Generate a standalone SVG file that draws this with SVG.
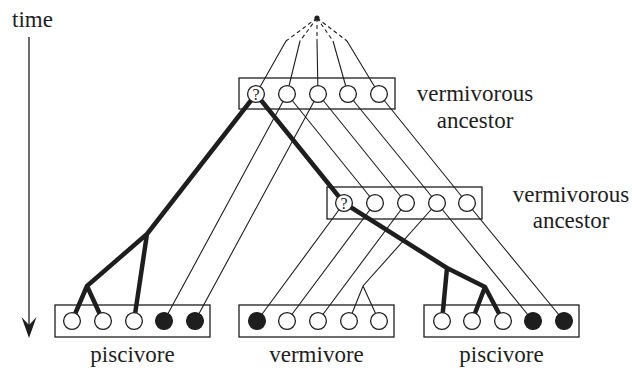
<svg xmlns="http://www.w3.org/2000/svg" width="632" height="372" viewBox="0 0 632 372">
  <style>
    .box { fill: none; stroke: #1e1e1e; stroke-width: 1.3; }
    .st { fill: #ffffff; stroke: #1e1e1e; stroke-width: 1.3; }
    .st.on { fill: #1e1e1e; }
    .thin { fill: none; stroke: #1e1e1e; stroke-width: 1.1; }
    .dash { fill: none; stroke: #1e1e1e; stroke-width: 1.1; stroke-dasharray: 4 3; }
    .thick { fill: none; stroke: #1e1e1e; stroke-width: 4.5; stroke-linejoin: round; }
    text { font-family: 'Liberation Serif', 'Times New Roman', Tinos, 'DejaVu Serif', serif; fill: #1e1e1e; }
    .lbl { font-size: 23px; }
    .q { font-size: 16px; text-anchor: middle; }
  </style>

  <!-- time axis -->
  <g id="time-axis">
    <text class="lbl" x="12" y="27" font-family="Liberation Serif, serif">time</text>
    <line x1="29" y1="37" x2="29" y2="326" stroke="#1e1e1e" stroke-width="1.3"/>
    <path d="M29,338 L21.5,317 L29,325 L36.5,317 Z" fill="#1e1e1e"/>
  </g>

  <!-- connectors -->
  <g id="connectors">
    <!-- root -->
    <circle cx="317" cy="18" r="2.6" fill="#1e1e1e"/>
    <path class="dash" d="M317,18 L286,41 M317,18 L300,41 M317,18 L317,41 M317,18 L333,41 M317,18 L347,41"/>
    <path class="thin" d="M286,41 L256,94 M300,41 L287,94 M317,41 L318,94 M333,41 L348,94 M347,41 L379,94"/>
    <!-- upper ancestor to lower ancestor -->
    <path class="thin" d="M287,94 L375,203 M318,94 L406,203 M348,94 L437,203 M379,94 L467,203"/>
    <!-- upper ancestor to left piscivore -->
    <path class="thin" d="M287,94 L164,321 M318,94 L195,321"/>
    <!-- lower ancestor to vermivore -->
    <path class="thin" d="M344,203 L257,321 M375,203 L287,321 M406,203 L318,321 M437,203 L363,286 L349,321 M363,286 L379,321"/>
    <!-- lower ancestor to right piscivore -->
    <path class="thin" d="M437,203 L533,321 M467,203 L564,321"/>
    <!-- piscivory lineages -->
    <path class="thick" d="M256,94 L147,234 L87,286 L72,321 M87,286 L103,321 M147,234 L134,321"/>
    <path class="thick" d="M256,94 L344,203 L447,268 L485,287 L472,321 M485,287 L503,321 M447,268 L442,321"/>
  </g>

  <!-- upper vermivorous ancestor -->
  <g id="ancestor-upper">
    <rect class="box" x="239" y="78" width="156" height="31"/>
    <circle class="st" cx="256" cy="94" r="8.4"/>
    <circle class="st" cx="287" cy="94" r="8.4"/>
    <circle class="st" cx="318" cy="94" r="8.4"/>
    <circle class="st" cx="348" cy="94" r="8.4"/>
    <circle class="st" cx="379" cy="94" r="8.4"/>
    <text class="q" x="256" y="99.5">?</text>
    <text class="lbl" x="475" y="101" text-anchor="middle">vermivorous</text>
    <text class="lbl" x="475" y="128" text-anchor="middle">ancestor</text>
  </g>

  <!-- lower vermivorous ancestor -->
  <g id="ancestor-lower">
    <rect class="box" x="327" y="187" width="155" height="32"/>
    <circle class="st" cx="344" cy="203" r="8.4"/>
    <circle class="st" cx="375" cy="203" r="8.4"/>
    <circle class="st" cx="406" cy="203" r="8.4"/>
    <circle class="st" cx="437" cy="203" r="8.4"/>
    <circle class="st" cx="467" cy="203" r="8.4"/>
    <text class="q" x="344" y="208.5">?</text>
    <text class="lbl" x="571" y="202" text-anchor="middle">vermivorous</text>
    <text class="lbl" x="571" y="228" text-anchor="middle">ancestor</text>
  </g>

  <!-- left piscivore -->
  <g id="piscivore-left">
    <rect class="box" x="55" y="305" width="155" height="32"/>
    <circle class="st" cx="72" cy="321" r="8.4"/>
    <circle class="st" cx="103" cy="321" r="8.4"/>
    <circle class="st" cx="134" cy="321" r="8.4"/>
    <circle class="st on" cx="164" cy="321" r="8.4"/>
    <circle class="st on" cx="195" cy="321" r="8.4"/>
    <text class="lbl" x="132.5" y="362" text-anchor="middle">piscivore</text>
  </g>

  <!-- vermivore -->
  <g id="vermivore">
    <rect class="box" x="239" y="305" width="155" height="32"/>
    <circle class="st on" cx="257" cy="321" r="8.4"/>
    <circle class="st" cx="287" cy="321" r="8.4"/>
    <circle class="st" cx="318" cy="321" r="8.4"/>
    <circle class="st" cx="349" cy="321" r="8.4"/>
    <circle class="st" cx="379" cy="321" r="8.4"/>
    <text class="lbl" x="316.5" y="362" text-anchor="middle">vermivore</text>
  </g>

  <!-- right piscivore -->
  <g id="piscivore-right">
    <rect class="box" x="424" y="305" width="155" height="32"/>
    <circle class="st" cx="442" cy="321" r="8.4"/>
    <circle class="st" cx="472" cy="321" r="8.4"/>
    <circle class="st" cx="503" cy="321" r="8.4"/>
    <circle class="st on" cx="533" cy="321" r="8.4"/>
    <circle class="st on" cx="564" cy="321" r="8.4"/>
    <text class="lbl" x="501.5" y="362" text-anchor="middle">piscivore</text>
  </g>
</svg>
